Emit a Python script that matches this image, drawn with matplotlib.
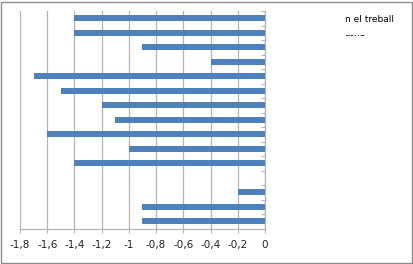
import numpy as np
import matplotlib
matplotlib.use('Agg')
import matplotlib.pyplot as plt
from matplotlib.patches import Rectangle
from matplotlib.ticker import FuncFormatter

# valors de dalt a baix (la fila 12 no te barra)
values = [-1.4, -1.4, -0.9, -0.4, -1.7, -1.5, -1.2, -1.1, -1.6, -1.0, -1.4, 0.0, -0.2, -0.9, -0.9]
xticks = [-1.8, -1.6, -1.4, -1.2, -1.0, -0.8, -0.6, -0.4, -0.2, 0.0]
legend_text = 'n el treball'

W, H = 414, 264
fig = plt.figure(figsize=(W / 100, H / 100), dpi=100)
ax = fig.add_axes([20 / W, 1 - 228.5 / H, 245 / W, (228.5 - 11) / H])

n = len(values)
ypos = np.arange(n)
ax.barh(ypos, values, height=0.42, color='#4F81BD', zorder=3)
ax.set_ylim(n - 0.5, -0.5)
ax.set_xlim(-1.8, 0)

grid_c = '#b4b4b4'
ax.set_xticks(xticks)
ax.xaxis.set_major_formatter(FuncFormatter(lambda v, p: ('%g' % round(v, 1)).replace('.', ',')))
ax.grid(axis='x', color=grid_c, linewidth=0.9, zorder=0)
ax.tick_params(axis='x', length=3, color=grid_c, labelsize=7.5, pad=5, labelcolor='#222222')

ax.yaxis.tick_right()
ax.set_yticks(np.arange(n + 1) - 0.5)
ax.set_yticklabels([])
ax.tick_params(axis='y', direction='in', length=3, color=grid_c)

for s in ['top', 'left']:
    ax.spines[s].set_visible(False)
for s in ['right', 'bottom']:
    ax.spines[s].set_color(grid_c)
    ax.spines[s].set_linewidth(0.9)

# llegenda tallada
fig.text(345 / W, 1 - 20 / H, legend_text, fontsize=6.5, va='center', ha='left')
t2 = fig.text(345 / W, 1 - 34 / H, 'dona', fontsize=6, va='center', ha='left')
clip = Rectangle((340, H - 40), 40, 5, transform=None)
t2.set_clip_path(clip)

fig.patches.append(Rectangle((1 / W, 1 / H), 1 - 3 / W, 1 - 3 / H, transform=fig.transFigure,
                             fill=False, edgecolor='#8c8c8c', linewidth=1))

fig.savefig('out.png', dpi=100)
